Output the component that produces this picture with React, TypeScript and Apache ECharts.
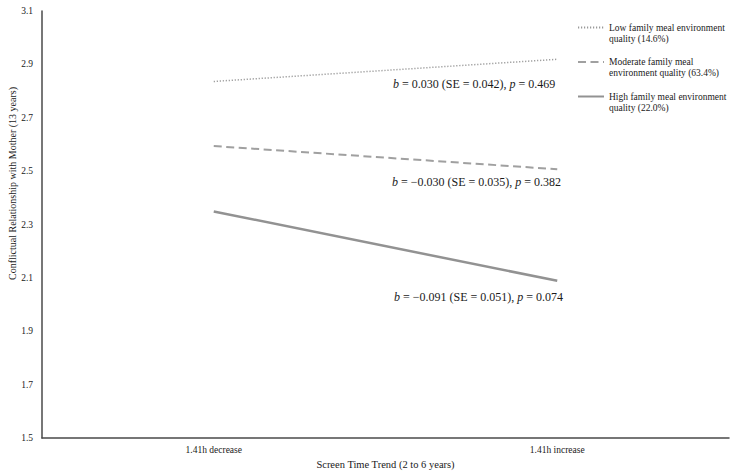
import React, { useEffect, useRef } from "react";
import * as echarts from "echarts";

const categories = ["1.41h decrease", "1.41h increase"];
const lowValues = [2.836, 2.919];
const moderateValues = [2.594, 2.507];
const highValues = [2.349, 2.089];
const seriesNames = [
  "Low family meal environment\nquality (14.6%)",
  "Moderate family meal\nenvironment quality (63.4%)",
  "High family meal environment\nquality (22.0%)",
];
const annotations = [
  "{i|b} = 0.030 (SE = 0.042), {i|p} = 0.469",
  "{i|b} = \u22120.030 (SE = 0.035), {i|p} = 0.382",
  "{i|b} = \u22120.091 (SE = 0.051), {i|p} = 0.074",
];
const yMin = 1.5;
const yMax = 3.1;
const yStep = 0.2;

const FONT = "'Liberation Serif', 'Times New Roman', serif";

export default function App() {
  const ref = useRef<HTMLDivElement>(null);
  useEffect(() => {
    if (!ref.current) return;
    const chart = echarts.init(ref.current, undefined, { renderer: "svg" });
    const annStyle = (t: string) => ({
      text: t,
      font: `12px ${FONT}`,
      fill: "#1a1a1a",
      rich: { i: { fontStyle: "italic", fontSize: 12, fontFamily: FONT, fill: "#1a1a1a" } },
    });
    chart.setOption({
      animation: false,
      textStyle: { fontFamily: FONT },
      grid: { left: 42, right: 7, top: 11, bottom: 38, containLabel: false, outerBoundsMode: "none" },
      legend: {
        orient: "vertical",
        left: 572,
        top: 6,
        itemWidth: 26,
        itemHeight: 14,
        itemGap: 1.5,
        itemStyle: { opacity: 0 },
        formatter: (name: string) => "\u00a0\n" + name,
        textStyle: {
          fontFamily: FONT,
          fontSize: 9.5,
          lineHeight: 11,
          color: "#1a1a1a",
        },
        data: seriesNames,
      },
      xAxis: {
        type: "category",
        data: categories,
        boundaryGap: true,
        axisLine: { lineStyle: { color: "#4a4a4a", width: 1.5 } },
        axisTick: { show: false },
        axisLabel: { fontFamily: FONT, fontSize: 9.5, color: "#1a1a1a", margin: 7 },
        name: "Screen Time Trend (2 to 6 years)",
        nameLocation: "middle",
        nameGap: 21,
        nameMoveOverlap: false,
        nameTextStyle: { fontFamily: FONT, fontSize: 10.5, color: "#1a1a1a" },
      },
      yAxis: {
        type: "value",
        min: yMin,
        max: yMax,
        interval: yStep,
        splitLine: { show: false },
        axisLine: { show: true, lineStyle: { color: "#4a4a4a", width: 1.5 } },
        axisTick: { show: false },
        axisLabel: {
          fontFamily: FONT,
          fontSize: 9.5,
          color: "#1a1a1a",
          margin: 9,
          formatter: (v: number) => v.toFixed(1),
        },
        name: "Conflictual Relationship with Mother (13 years)",
        nameLocation: "middle",
        nameGap: 25,
        nameRotate: 90,
        nameMoveOverlap: false,
        nameTextStyle: {
          fontFamily: FONT,
          fontSize: 10,
          color: "#1a1a1a",
          padding: [0, 0, 0, 82],
        },
      },
      series: [
        {
          name: seriesNames[0],
          type: "line",
          data: lowValues,
          symbol: "none",
          lineStyle: { color: "#9a9a9a", width: 1.5, type: [1.2, 1.8] },
          itemStyle: { color: "#9a9a9a" },
        },
        {
          name: seriesNames[1],
          type: "line",
          data: moderateValues,
          symbol: "none",
          lineStyle: { color: "#a0a0a0", width: 2, type: [8, 4.5] },
          itemStyle: { color: "#a0a0a0" },
        },
        {
          name: seriesNames[2],
          type: "line",
          data: highValues,
          symbol: "none",
          lineStyle: { color: "#929292", width: 2.5 },
          itemStyle: { color: "#929292" },
        },
      ],
      graphic: [
        { type: "text", left: 393, top: 78, style: annStyle(annotations[0]) },
        { type: "text", left: 392, top: 176, style: annStyle(annotations[1]) },
        { type: "text", left: 394, top: 291, style: annStyle(annotations[2]) },
      ],
    });
    return () => chart.dispose();
  }, []);
  return <div ref={ref} style={{ width: 736, height: 476, position: "absolute", left: 0, top: 0 }} />;
}
